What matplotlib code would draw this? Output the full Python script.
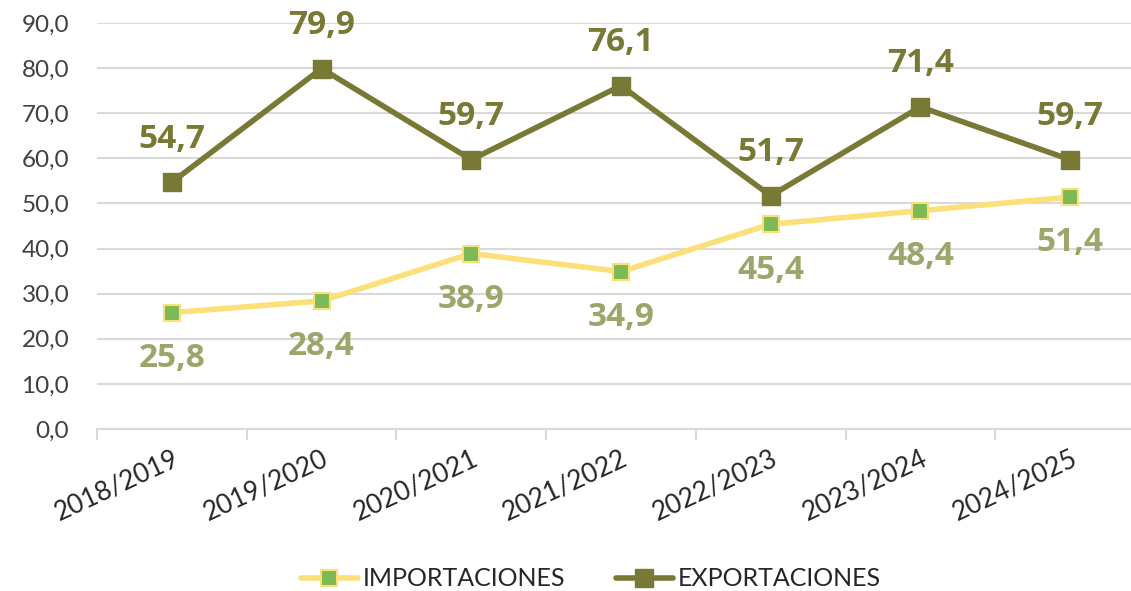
import matplotlib
matplotlib.use("Agg")
import matplotlib.pyplot as plt
import numpy as np

categories = ["2018/2019", "2019/2020", "2020/2021", "2021/2022", "2022/2023", "2023/2024", "2024/2025"]
importaciones = [25.8, 28.4, 38.9, 34.9, 45.4, 48.4, 51.4]
exportaciones = [54.7, 79.9, 59.7, 76.1, 51.7, 71.4, 59.7]
yticks = [0, 10, 20, 30, 40, 50, 60, 70, 80, 90]

plt.rcParams['font.family'] = ['Lato', 'DejaVu Sans']

fig = plt.figure(figsize=(11.31, 5.91), dpi=100)
ax = fig.add_axes([97/1131, 1-429/591, 1-97/1131, (429-23)/591])

x = np.arange(len(categories))
exp_col = "#777934"
imp_line = "#FBE07A"
imp_mk = "#7DB955"
imp_lbl = "#9CA66A"

ax.plot(x, importaciones, color=imp_line, lw=4, marker='s', ms=11,
        markerfacecolor=imp_mk, markeredgecolor=imp_line, markeredgewidth=1.5,
        label="IMPORTACIONES", zorder=3, solid_capstyle='round')
ax.plot(x, exportaciones, color=exp_col, lw=4, marker='s', ms=13,
        markerfacecolor=exp_col, markeredgecolor=exp_col,
        label="EXPORTACIONES", zorder=4, solid_capstyle='round')

lblfont = ['Open Sans', 'DejaVu Sans']
for xi, v in zip(x, exportaciones):
    ax.annotate(f"{v:.1f}".replace('.', ','), (xi, v), xytext=(0, 31), textcoords='offset points',
                ha='center', va='center', fontsize=24, fontweight='bold', color=exp_col, family=lblfont)
for xi, v in zip(x, importaciones):
    ax.annotate(f"{v:.1f}".replace('.', ','), (xi, v), xytext=(0, -33), textcoords='offset points',
                ha='center', va='center', fontsize=24, fontweight='bold', color=imp_lbl, family=lblfont)

ax.set_yticks(yticks)
ax.set_yticklabels([f"{t:.1f}".replace('.', ',') for t in yticks], fontsize=17.5, color="#404040")
ax.yaxis.grid(True, color="#D9D9D9", lw=1.5)
ax.set_axisbelow(True)
ax.tick_params(axis='y', length=0, pad=20)

ax.set_xticks(x)
ax.set_xticklabels(categories, rotation=25, ha='right', rotation_mode='anchor', fontsize=19, color="#262626")
ax.tick_params(axis='x', which='major', length=0, pad=12)
ax.set_xticks(np.arange(-0.5, 7, 1.0), minor=True)
ax.tick_params(axis='x', which='minor', length=8, width=1.5, color="#D9D9D9")

ax.set_ylim(0, 90)
ax.set_xlim(-0.5, 6.407)

for s in ['top', 'right', 'left']:
    ax.spines[s].set_visible(False)
ax.spines['bottom'].set_color("#D9D9D9")
ax.spines['bottom'].set_linewidth(1.5)

leg = fig.legend(loc='center', bbox_to_anchor=(0.5225, 1-579/591), ncol=2, frameon=False,
                 fontsize=18, handlelength=2.3, columnspacing=2.0, handletextpad=0.2)
for t in leg.get_texts():
    t.set_color("#262626")

fig.savefig("out.png", dpi=100)
